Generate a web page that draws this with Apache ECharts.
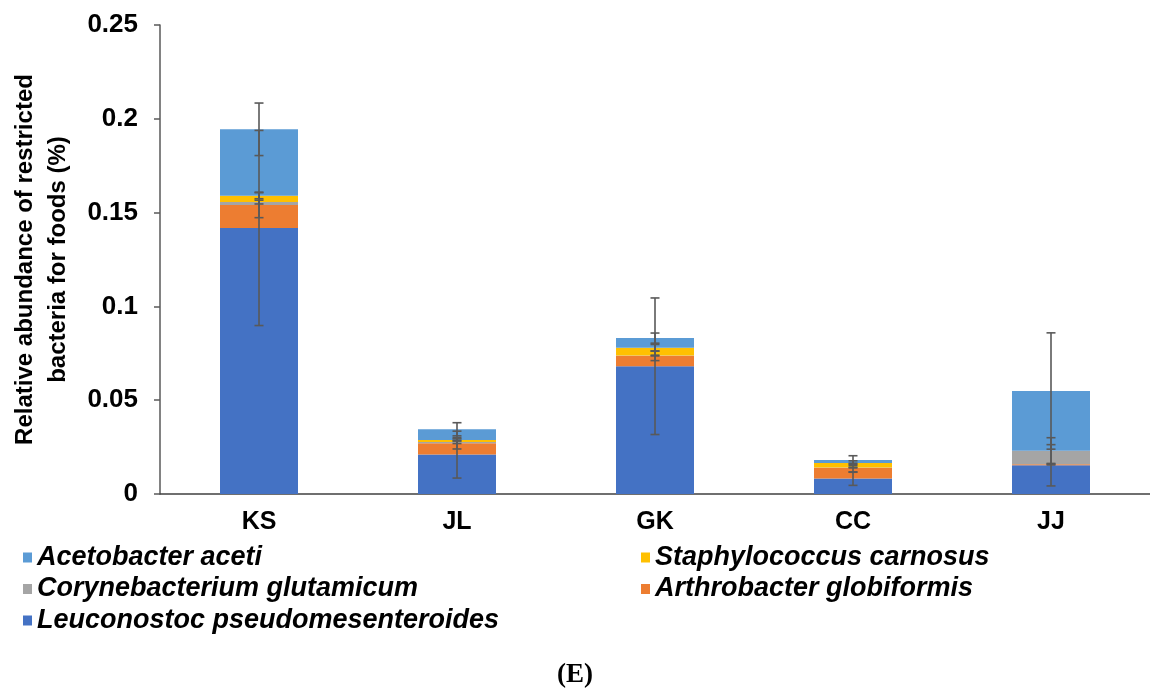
<!DOCTYPE html>
<html>
<head>
<meta charset="utf-8">
<script src="https://cdn.jsdelivr.net/npm/echarts@6/dist/echarts.min.js"></script>
<style>
  html, body { margin: 0; padding: 0; background: #fff; }
  #chart { width: 1150px; height: 689px; }
</style>
</head>
<body>
<div id="chart"></div>
<script>
// Food samples on the x axis
const categories = ['KS', 'JL', 'GK', 'CC', 'JJ'];

// Relative abundance (%) of each restricted species, stacked bottom to top
const leuconostoc    = [0.1418, 0.0210, 0.0681, 0.0082, 0.0153];
const arthrobacter   = [0.0123, 0.0060, 0.0056, 0.0058, 0.0006];
const corynebacterium= [0.0015, 0.0007, 0.0001, 0.0001, 0.0071];
const staphylococcus = [0.0034, 0.0011, 0.0041, 0.0024, 0.0000];
const acetobacter    = [0.0354, 0.0057, 0.0052, 0.0016, 0.0319];

// Standard deviations (error bar half-lengths) for each species
const leuconostocErr    = [0.0520, 0.0125, 0.0364, 0.0036, 0.0110];
const arthrobacterErr   = [0.0068, 0.0030, 0.0026, 0.0024, 0.0004];
const corynebacteriumErr= [0.0010, 0.0008, 0.0002, 0.0002, 0.0070];
const staphylococcusErr = [0.0016, 0.0006, 0.0018, 0.0012, 0.0000];
const acetobacterErr    = [0.0140, 0.0035, 0.0027, 0.0023, 0.0310];

const yTicks = [0, 0.05, 0.1, 0.15, 0.2, 0.25];

const species = [
  { name: 'Leuconostoc pseudomesenteroides', values: leuconostoc,     err: leuconostocErr,     color: '#4472C4' },
  { name: 'Arthrobacter globiformis',        values: arthrobacter,    err: arthrobacterErr,    color: '#ED7D31' },
  { name: 'Corynebacterium glutamicum',      values: corynebacterium, err: corynebacteriumErr, color: '#A5A5A5' },
  { name: 'Staphylococcus carnosus',         values: staphylococcus,  err: staphylococcusErr,  color: '#FFC000' },
  { name: 'Acetobacter aceti',               values: acetobacter,     err: acetobacterErr,     color: '#5B9BD5' }
];

// Error bars sit on the cumulative top of each stacked segment
const errorData = [];
const running = categories.map(() => 0);
species.forEach(s => {
  s.values.forEach((v, i) => {
    running[i] += v;
    if (s.err[i] > 0) {
      errorData.push([i, running[i] - s.err[i], running[i] + s.err[i]]);
    }
  });
});

const barSeries = species.map(s => ({
  name: s.name,
  type: 'bar',
  stack: 'total',
  barWidth: 78,
  itemStyle: { color: s.color },
  emphasis: { disabled: true },
  data: s.values
}));

const errorSeries = {
  type: 'custom',
  name: 'error',
  z: 10,
  silent: true,
  renderItem: function (params, api) {
    const x = api.value(0);
    const lo = api.coord([x, api.value(1)]);
    const hi = api.coord([x, api.value(2)]);
    const half = 4.5;
    const style = { stroke: '#595959', lineWidth: 1.6, fill: null };
    return {
      type: 'group',
      children: [
        { type: 'line', shape: { x1: lo[0], y1: lo[1], x2: hi[0], y2: hi[1] }, style: style },
        { type: 'line', shape: { x1: lo[0] - half, y1: lo[1], x2: lo[0] + half, y2: lo[1] }, style: style },
        { type: 'line', shape: { x1: hi[0] - half, y1: hi[1], x2: hi[0] + half, y2: hi[1] }, style: style }
      ]
    };
  },
  encode: { x: 0, y: [1, 2] },
  data: errorData
};

const legendText = {
  fontFamily: 'Liberation Sans, Arial, sans-serif',
  fontSize: 27,
  lineHeight: 27,
  fontWeight: 'bold',
  fontStyle: 'italic',
  color: '#000'
};

const chart = echarts.init(document.getElementById('chart'), null, { renderer: 'canvas' });
chart.setOption({
  animation: false,
  backgroundColor: '#fff',
  grid: { left: 160, top: 25, width: 995, height: 469, containLabel: false },
  legend: [
    {
      orient: 'vertical', left: 18, top: 539, itemGap: 4.5,
      itemWidth: 9, itemHeight: 10, icon: 'rect',
      textStyle: legendText, selectedMode: false,
      data: ['Acetobacter aceti', 'Corynebacterium glutamicum', 'Leuconostoc pseudomesenteroides']
    },
    {
      orient: 'vertical', left: 636, top: 539, itemGap: 4.5,
      itemWidth: 9, itemHeight: 10, icon: 'rect',
      textStyle: legendText, selectedMode: false,
      data: ['Staphylococcus carnosus', 'Arthrobacter globiformis']
    }
  ],
  xAxis: {
    type: 'category',
    data: categories,
    axisLine: { lineStyle: { color: '#404040', width: 1.5 } },
    axisTick: { show: false },
    axisLabel: {
      margin: 16,
      fontFamily: 'Liberation Sans, Arial, sans-serif',
      fontSize: 25, fontWeight: 'bold', color: '#000'
    }
  },
  yAxis: {
    type: 'value',
    min: yTicks[0],
    max: yTicks[yTicks.length - 1],
    interval: 0.05,
    splitLine: { show: false },
    axisLine: { show: true, lineStyle: { color: '#595959', width: 1.5 } },
    axisTick: { show: true, length: 6, lineStyle: { color: '#595959', width: 1.5 } },
    axisLabel: {
      margin: 22,
      fontFamily: 'Liberation Sans, Arial, sans-serif',
      fontSize: 26, fontWeight: 'bold', color: '#000',
      formatter: v => String(+v.toFixed(2))
    },
    name: 'Relative abundance of restricted\nbacteria for foods (%)',
    nameLocation: 'middle',
    nameRotate: 90,
    nameGap: 85,
    nameTextStyle: {
      fontFamily: 'Liberation Sans, Arial, sans-serif',
      fontSize: 24, fontWeight: 'bold', color: '#000', lineHeight: 33, align: 'center'
    }
  },
  graphic: [
    {
      type: 'text', left: 'center', top: 662,
      style: {
        text: '(E)',
        font: 'bold 27px "Liberation Serif", "Times New Roman", serif',
        fill: '#000'
      }
    }
  ],
  series: barSeries.concat([errorSeries])
});
</script>
</body>
</html>
